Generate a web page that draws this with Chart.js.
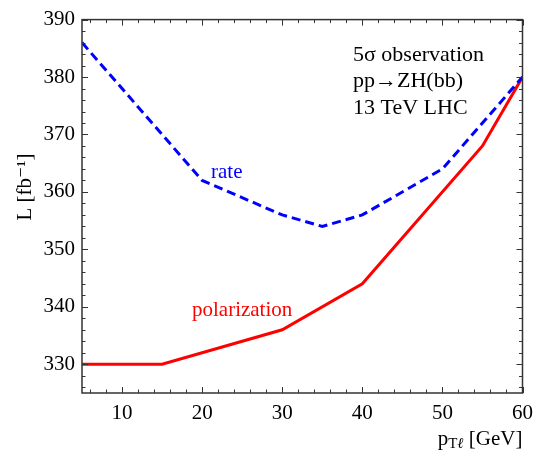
<!DOCTYPE html>
<html>
<head>
<meta charset="utf-8">
<script src="https://cdn.jsdelivr.net/npm/chart.js@4.4.1/dist/chart.umd.min.js"></script>
<style>
  html, body { margin: 0; padding: 0; background: #fff; }
  #wrap { width: 541px; height: 450px; }
</style>
</head>
<body>
<div id="wrap"><canvas id="chart"></canvas></div>
<script>
// ================= DATA =================
const rateX = [5, 20, 30, 35, 40, 50, 60];
const rateL = [386, 362, 356, 354, 356, 364, 380];
const polX = [5, 15, 30, 40, 55, 60];
const polL = [330, 330, 336, 344, 368, 380];
const xTicks = [10, 20, 30, 40, 50, 60];
const yTicks = [330, 340, 350, 360, 370, 380, 390];

const SERIF = "'Liberation Serif', 'DejaVu Serif', serif";

function pts(xs, ys) {
  return xs.map((x, i) => ({ x: x, y: ys[i] }));
}

// ================= FRAME, TICKS, LABELS =================
const framePlugin = {
  id: "frame",
  afterDatasetsDraw(chart) {
    const { ctx, chartArea: a, scales } = chart;
    const xs = scales.x, ys = scales.y;
    ctx.save();
    ctx.strokeStyle = "#333";
    ctx.lineWidth = 1;

    // minor + major ticks, pointing inward on all four sides
    ctx.beginPath();
    for (let v = 6; v <= 60; v += 2) {
      const px = Math.round(xs.getPixelForValue(v)) + 0.5;
      const len = v % 10 === 0 ? 6 : 3.5;
      ctx.moveTo(px, a.bottom); ctx.lineTo(px, a.bottom - len);
      ctx.moveTo(px, a.top); ctx.lineTo(px, a.top + len);
    }
    for (let v = 326; v <= 390; v += 2) {
      const py = Math.round(ys.getPixelForValue(v)) + 0.5;
      const len = v % 10 === 0 ? 6 : 3.5;
      ctx.moveTo(a.left, py); ctx.lineTo(a.left + len, py);
      ctx.moveTo(a.right, py); ctx.lineTo(a.right - len, py);
    }
    ctx.stroke();

    ctx.lineWidth = 1.5;
    ctx.strokeRect(a.left, a.top, a.right - a.left, a.bottom - a.top);

    // annotations
    ctx.textBaseline = "alphabetic";
    ctx.textAlign = "left";
    ctx.font = "22px " + SERIF;
    ctx.fillStyle = "#000";
    ctx.fillText("5\u03c3 observation", 353, 61);
    ctx.fillText("pp\u2192ZH(bb)", 353, 87);
    ctx.fillText("13 TeV LHC", 353, 114);

    ctx.font = "21px " + SERIF;
    ctx.fillStyle = "#0000ff";
    ctx.fillText("rate", 211, 178);
    ctx.fillStyle = "#ff0000";
    ctx.fillText("polarization", 192, 316);

    // x axis title with subscript
    ctx.fillStyle = "#000";
    ctx.textAlign = "right";
    ctx.font = "21px " + SERIF;
    const tail = " [GeV]";
    let xr = a.right;
    ctx.fillText(tail, xr, 445);
    xr -= ctx.measureText(tail).width;
    ctx.font = "italic 15px " + SERIF;
    ctx.fillText("\u2113", xr, 448);
    xr -= ctx.measureText("\u2113").width;
    ctx.font = "15px " + SERIF;
    ctx.fillText("T", xr, 448);
    xr -= ctx.measureText("T").width;
    ctx.font = "21px " + SERIF;
    ctx.fillText("p", xr, 445);

    // y axis title, rotated
    ctx.translate(31, 187);
    ctx.rotate(-Math.PI / 2);
    ctx.textAlign = "center";
    ctx.font = "21px " + SERIF;
    ctx.fillText("L [fb\u207b\u00b9]", 0, 0);
    ctx.restore();
  }
};

// ================= CHART =================
const ctx = document.getElementById("chart").getContext("2d");

new Chart(ctx, {
  type: "line",
  data: {
    datasets: [
      {
        label: "rate",
        data: pts(rateX, rateL),
        borderColor: "#0000ff",
        borderWidth: 3,
        borderDash: [9, 5],
        pointRadius: 0,
        tension: 0
      },
      {
        label: "polarization",
        data: pts(polX, polL),
        borderColor: "#ff0000",
        borderWidth: 3,
        pointRadius: 0,
        tension: 0
      }
    ]
  },
  options: {
    responsive: true,
    maintainAspectRatio: false,
    animation: false,
    layout: { padding: { top: 18, right: 16, left: 0, bottom: 0 } },
    plugins: {
      legend: { display: false },
      tooltip: { enabled: false }
    },
    scales: {
      x: {
        type: "linear",
        min: 5,
        max: 60,
        afterBuildTicks: s => { s.ticks = xTicks.map(v => ({ value: v })); },
        afterFit: s => { s.height = 57; },
        grid: { display: false, drawTicks: false },
        border: { display: false },
        ticks: {
          color: "#000",
          padding: 8,
          maxRotation: 0,
          font: { family: SERIF, size: 21 }
        }
      },
      y: {
        type: "linear",
        min: 325,
        max: 390,
        afterBuildTicks: s => { s.ticks = yTicks.map(v => ({ value: v })); },
        afterFit: s => { s.width = 82; },
        grid: { display: false, drawTicks: false },
        border: { display: false },
        ticks: {
          color: "#000",
          padding: 7,
          font: { family: SERIF, size: 21 }
        }
      }
    }
  },
  plugins: [framePlugin]
});
</script>
</body>
</html>
